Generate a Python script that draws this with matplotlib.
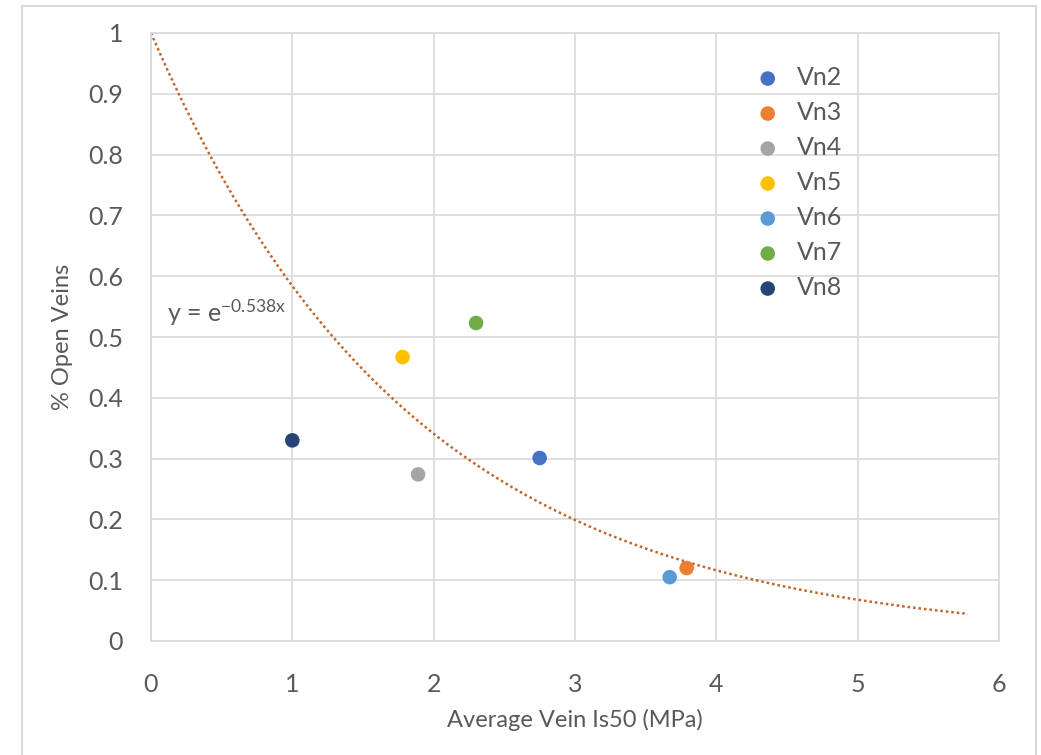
import matplotlib
matplotlib.use("Agg")
import matplotlib.pyplot as plt
from matplotlib.patches import Rectangle
import numpy as np

plt.rcParams['font.family'] = ['Lato', 'DejaVu Sans']
plt.rcParams['mathtext.default'] = 'regular'

# dados
veias = ["Vn2", "Vn3", "Vn4", "Vn5", "Vn6", "Vn7", "Vn8"]
is50 = [2.75, 3.79, 1.89, 1.78, 3.67, 2.30, 1.00]
abertas = [0.301, 0.120, 0.274, 0.467, 0.105, 0.523, 0.330]
cores = ["#4472C4", "#ED7D31", "#A5A5A5", "#FFC000", "#5B9BD5", "#70AD47", "#264478"]

# linha de tendencia y = e^(-0.538x)
coef = -0.538
x_fim = 5.78

texto = "#595959"
grade = "#D9D9D9"

fig = plt.figure(figsize=(10.41, 7.55), dpi=100)
ax = fig.add_axes([151/1041, 1 - 641/755, 848/1041, 608/755])

xt = np.linspace(0, x_fim, 200)
ax.plot(xt, np.exp(coef * xt), linestyle=(0, (1, 1.2)), color="#C0652A", linewidth=1.8, zorder=2)

for nome, x, y, c in zip(veias, is50, abertas, cores):
    ax.scatter(x, y, s=110, color=c, label=nome, zorder=3, edgecolors="none")

ax.text(0.11, 0.54, r"y = e$^{-0.538x}$", fontsize=18, color=texto, va="center")

ax.set_xlim(0, 6)
ax.set_ylim(0, 1)
ax.set_xticks(range(0, 7))
ax.set_yticks(np.arange(0, 1.01, 0.1))
ax.set_yticklabels(["0"] + [f"{v:.1f}" for v in np.arange(0.1, 0.95, 0.1)] + ["1"])
ax.grid(True, color=grade, linewidth=1.2)
ax.set_axisbelow(True)
for s in ax.spines.values():
    s.set_color(grade)
    s.set_linewidth(1.2)
ax.tick_params(length=0, labelsize=18, colors=texto)
ax.tick_params(axis="y", pad=20)
ax.tick_params(axis="x", pad=23)

ax.set_xlabel("Average Vein Is50 (MPa)", fontsize=17, color=texto, labelpad=9)
ax.set_ylabel("% Open Veins", fontsize=17, color=texto, labelpad=11)

leg = ax.legend(loc="upper left", bbox_to_anchor=(0.686, 0.962), frameon=False,
                fontsize=18, labelcolor=texto, handletextpad=0.15, labelspacing=0.48,
                markerscale=1.0, borderaxespad=0)

# borda da area do grafico
fig.patches.append(Rectangle((22/1041, -0.05), 1014/1041, 1.05 - 6/755, transform=fig.transFigure,
                             fill=False, edgecolor=grade, linewidth=1.5))

fig.savefig("out.png", dpi=100)
